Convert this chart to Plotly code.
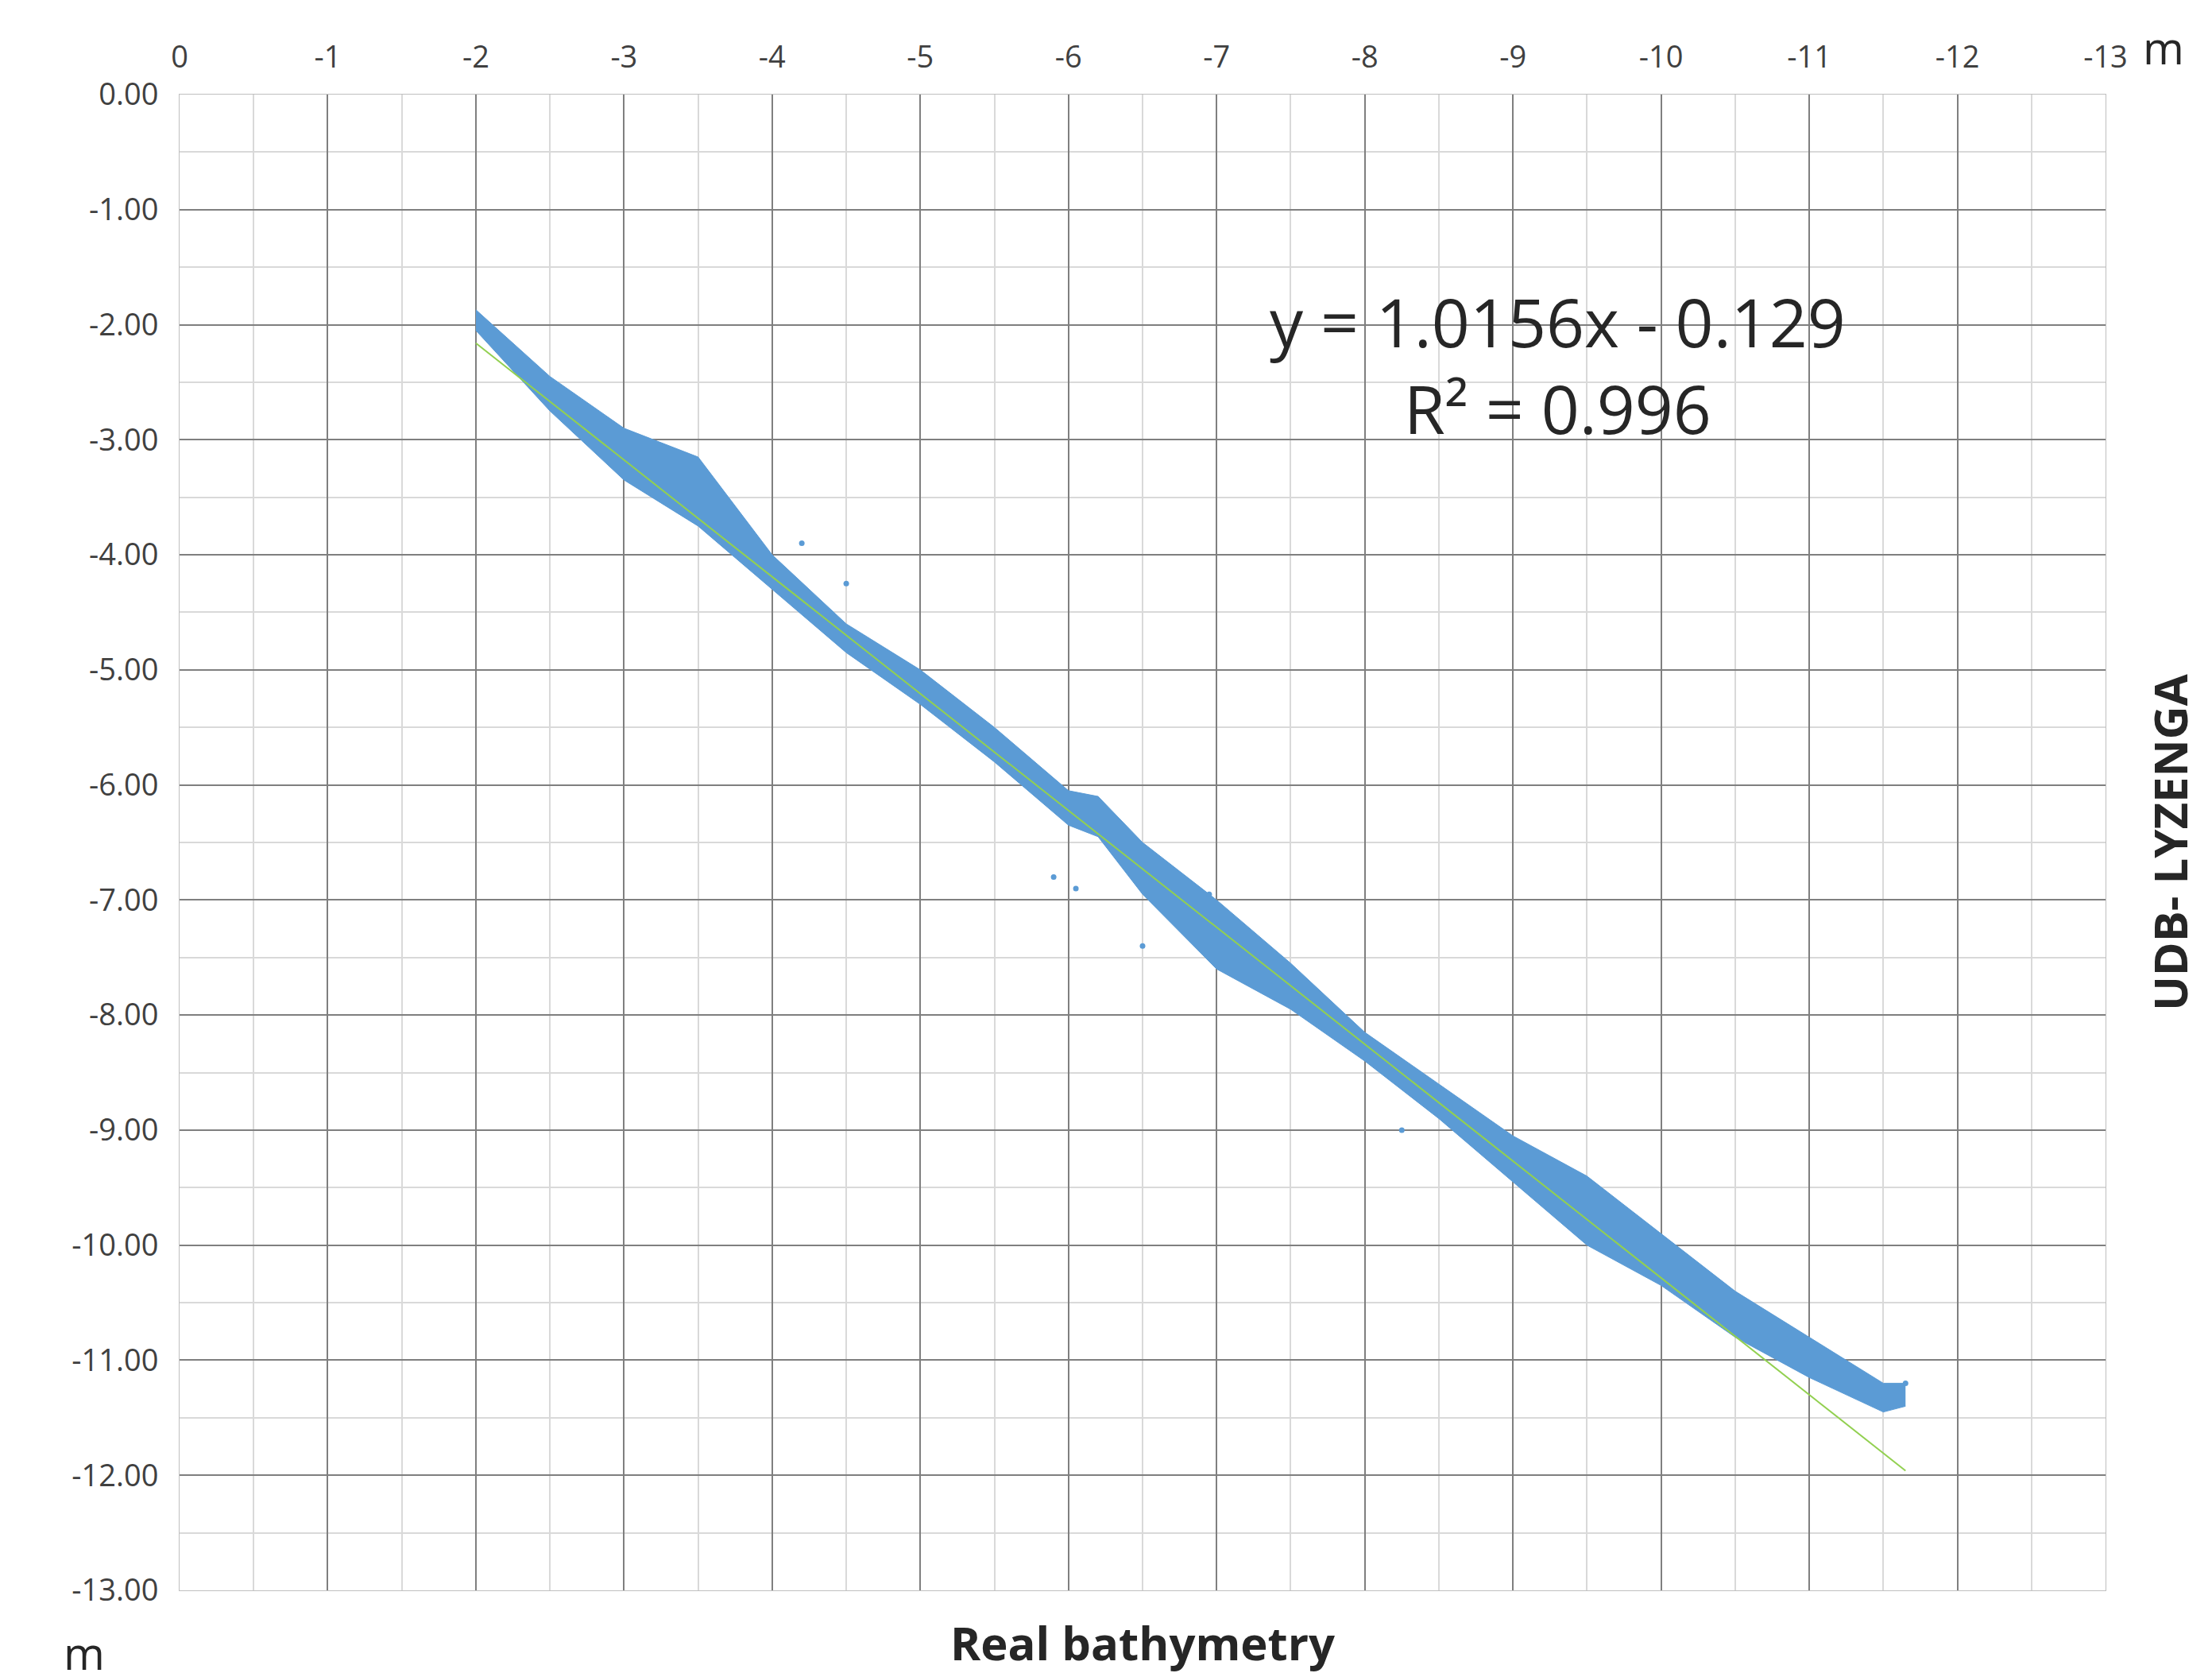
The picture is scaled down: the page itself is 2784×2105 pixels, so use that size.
import plotly.graph_objects as go

# band of the point cloud (upper / lower edge per depth)
band_x = [-2.0, -2.5, -3.0, -3.5, -4.0, -4.5, -5.0, -5.5, -6.0, -6.2, -6.5, -7.0,
          -7.5, -8.0, -8.5, -9.0, -9.5, -10.0, -10.5, -11.0, -11.5, -11.65]
band_upper = [-1.87, -2.45, -2.9, -3.15, -4.0, -4.6, -5.0, -5.5, -6.05, -6.1, -6.5, -7.0,
              -7.55, -8.15, -8.6, -9.05, -9.4, -9.9, -10.4, -10.8, -11.2, -11.2]
band_lower = [-2.05, -2.75, -3.35, -3.75, -4.3, -4.85, -5.3, -5.8, -6.35, -6.45, -6.95, -7.6,
              -7.95, -8.4, -8.9, -9.45, -10.0, -10.35, -10.8, -11.15, -11.45, -11.4]

outlier_x = [-4.2, -4.5, -5.9, -6.05, -6.95, -6.5, -8.25, -11.65]
outlier_y = [-3.9, -4.25, -6.8, -6.9, -6.95, -7.4, -9.0, -11.2]

trend_x = [-2.0, -11.65]
trend_y = [-2.16, -11.96]

x_ticks = list(range(0, -14, -1))
y_ticks = list(range(0, -14, -1))

BLUE = "#5b9bd5"

fig = go.Figure()
fig.add_trace(go.Scatter(x=band_x, y=band_upper, mode="lines",
                         line=dict(color=BLUE, width=1), showlegend=False))
fig.add_trace(go.Scatter(x=band_x, y=band_lower, mode="lines", fill="tonexty",
                         fillcolor=BLUE, line=dict(color=BLUE, width=1), showlegend=False))
fig.add_trace(go.Scatter(x=outlier_x, y=outlier_y, mode="markers",
                         marker=dict(color=BLUE, size=7), showlegend=False))
fig.add_trace(go.Scatter(x=trend_x, y=trend_y, mode="lines",
                         line=dict(color="#92d050", width=2), showlegend=False))

grid = dict(showgrid=True, gridcolor="#7f7f7f", gridwidth=2,
            minor=dict(dtick=0.5, showgrid=True, gridcolor="#d9d9d9", gridwidth=2),
            showline=True, linecolor="#bfbfbf", zeroline=False, ticks="",
            ticklabelstandoff=18,
            tickfont=dict(family="Open Sans", size=38, color="#404040"))

fig.update_xaxes(range=[0, -13], side="top", tickvals=x_ticks,
                 ticktext=[str(v) for v in x_ticks], mirror=True, **grid)
fig.update_yaxes(range=[-13, 0], tickvals=y_ticks,
                 ticktext=[f"{v:.2f}" for v in y_ticks], mirror=True, **grid)

fig.add_annotation(text="y = 1.0156x - 0.129<br>R² = 0.996", x=-9.3, y=-2.35,
                   showarrow=False, font=dict(family="Open Sans", size=84, color="#262626"),
                   align="center")
fig.add_annotation(text="<b>Real bathymetry</b>", xref="paper", yref="paper", x=0.5, y=0,
                   yanchor="middle", yshift=-65, showarrow=False,
                   font=dict(family="Open Sans", size=58, color="#262626"))
fig.add_annotation(text="<b>UDB- LYZENGA</b>", xref="paper", yref="paper", x=1.0, y=0.5,
                   xanchor="center", xshift=80, textangle=-90, showarrow=False,
                   font=dict(family="Open Sans", size=58, color="#262626"))
fig.add_annotation(text="m", xref="paper", yref="paper", x=1.0, y=1.0,
                   xanchor="left", yanchor="bottom", xshift=45, yshift=20, showarrow=False,
                   font=dict(family="Open Sans", size=56, color="#262626"))
fig.add_annotation(text="m", xref="paper", yref="paper", x=0, y=0,
                   xanchor="center", yanchor="middle", xshift=-120, yshift=-78,
                   showarrow=False, font=dict(family="Open Sans", size=56, color="#262626"))

fig.update_layout(width=2784, height=2105, plot_bgcolor="white", paper_bgcolor="white",
                  margin=dict(l=218, r=142, t=111, b=112))

fig.write_html("out.html")
